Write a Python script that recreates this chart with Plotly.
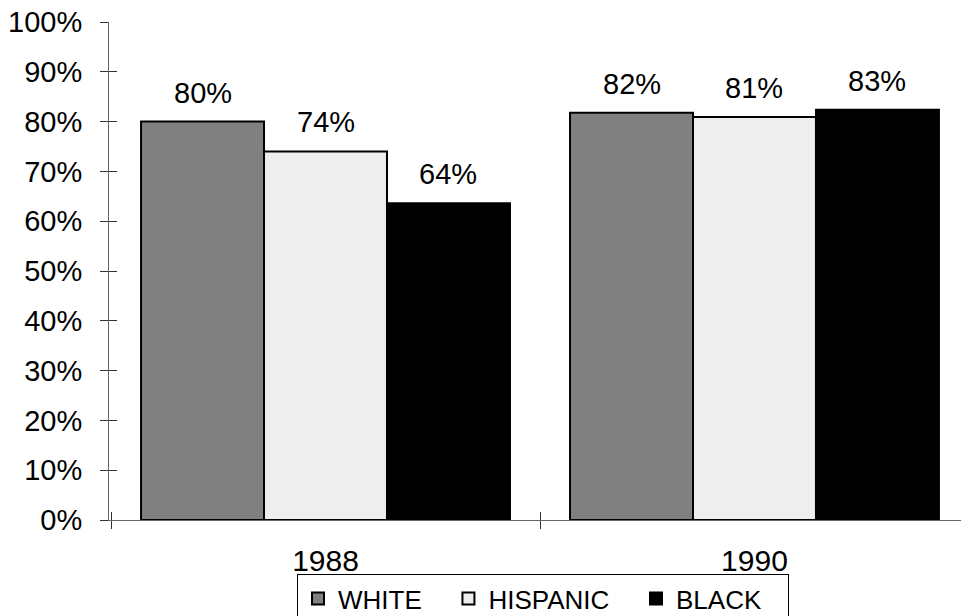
import plotly.graph_objects as go

years = ["1988", "1990"]
series_names = ["WHITE", "HISPANIC", "BLACK"]
white = [80.0, 81.8]
hispanic = [74.0, 80.9]
black = [63.6, 82.4]
white_labels = ["80%", "82%"]
hispanic_labels = ["74%", "81%"]
black_labels = ["64%", "83%"]
y_ticks = [0, 10, 20, 30, 40, 50, 60, 70, 80, 90, 100]
y_tick_text = ["0%", "10%", "20%", "30%", "40%", "50%", "60%", "70%", "80%", "90%", "100%"]

colors = ["#808080", "#eeeeee", "#000000"]
values = [white, hispanic, black]
labels = [white_labels, hispanic_labels, black_labels]
legend_pad = [3, 3, 3]  # trailing non-breaking spaces for legend spacing

BARGAP = 0.14
FONT = "Liberation Sans, Arial, sans-serif"

fig = go.Figure()
for name, vals, col, pad in zip(series_names, values, colors, legend_pad):
    fig.add_trace(go.Bar(
        x=years, y=vals, name=name + "\u00a0" * pad,
        marker=dict(color=col, line=dict(color="#000000", width=2)),
        hoverinfo="skip",
    ))

# dummy trace to host overlay axes (for crossing ticks)
fig.add_trace(go.Scatter(x=[None], y=[None], xaxis="x2", yaxis="y2",
                         showlegend=False, hoverinfo="skip"))

bw = (1 - BARGAP) / len(series_names)
annotations = []
for k, labs in enumerate(labels):
    for i, lab in enumerate(labs):
        annotations.append(dict(
            x=i + (k - 1) * bw, y=values[k][i], xref="x", yref="y",
            text=lab, showarrow=False, yshift=29, yanchor="middle",
            font=dict(family=FONT, size=29, color="#000000"),
        ))

W, H = 961, 616
L, T, B = 109, 22, 96
plot_w = W - L
plot_h = H - T - B

xr = [-0.5047, 1.4814]
fig.update_layout(
    width=W, height=H,
    margin=dict(l=L, r=0, t=T, b=B, autoexpand=False),
    paper_bgcolor="white", plot_bgcolor="white",
    barmode="group", bargap=BARGAP, bargroupgap=0,
    font=dict(family=FONT, size=29, color="#000000"),
    showlegend=True,
    legend=dict(
        orientation="h", x=(297 - L) / plot_w, xanchor="left",
        y=-(574 - (T + plot_h)) / plot_h, yanchor="top",
        bordercolor="#000000", borderwidth=1,
        font=dict(family=FONT, size=26, color="#000000"),
        traceorder="normal",
    ),
    xaxis=dict(
        type="category", range=xr, tickson="boundaries",
        ticks="outside", ticklen=8, tickcolor="#333333",
        showline=True, linecolor="#666666", linewidth=1,
        showgrid=False, zeroline=False,
        tickfont=dict(family=FONT, size=30),
        ticklabelstandoff=14,
    ),
    yaxis=dict(
        range=[0, 100], tickvals=y_ticks, ticktext=y_tick_text,
        ticks="outside", ticklen=8, tickcolor="#333333",
        showline=True, linecolor="#666666", linewidth=1,
        showgrid=False, zeroline=False,
        tickfont=dict(family=FONT, size=29),
        ticklabelstandoff=12, ticklabeloverflow="allow",
    ),
    xaxis2=dict(
        overlaying="x", anchor="y", type="linear", range=xr,
        tickvals=[-0.5, 0.5, 1.5], ticks="inside", ticklen=8,
        tickcolor="#333333", showticklabels=False, showgrid=False,
        zeroline=False, showline=False, side="bottom",
    ),
    yaxis2=dict(
        overlaying="y", anchor="x", range=[0, 100], tickvals=y_ticks,
        ticks="inside", ticklen=8, tickcolor="#333333",
        showticklabels=False, showgrid=False, zeroline=False,
        showline=False, side="left",
    ),
    annotations=annotations,
)

fig.write_html(
    "out.html",
    config={"displayModeBar": False},
    post_script="document.body.style.margin='0';document.body.style.overflow='hidden';",
)
